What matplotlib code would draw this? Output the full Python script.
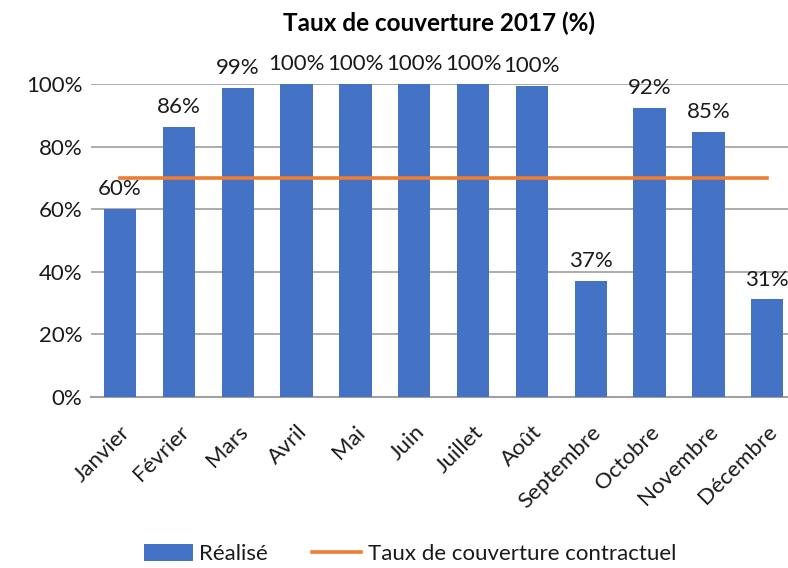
import matplotlib
matplotlib.use('Agg')
import matplotlib.pyplot as plt
from matplotlib.patches import Patch
from matplotlib.lines import Line2D

plt.rcParams['font.family'] = ['Lato', 'DejaVu Sans']

mois = ['Janvier', 'Février', 'Mars', 'Avril', 'Mai', 'Juin', 'Juillet',
        'Août', 'Septembre', 'Octobre', 'Novembre', 'Décembre']
realise = [0.60, 0.862, 0.988, 1.0, 1.0, 1.0, 1.0, 0.995, 0.372, 0.923, 0.848, 0.312]
contractuel = [0.70] * 12
yticks = [0, 0.2, 0.4, 0.6, 0.8, 1.0]

bleu = '#4472C4'
orange = '#ED7D31'
texte = '#1A1A1A'
fs = 16

fig = plt.figure(figsize=(7.88, 5.68), dpi=100)
ax = fig.add_axes([90.6 / 788, 1 - 397 / 568, 706 / 788, 313 / 568])

x = list(range(len(mois)))
ax.bar(x, realise, width=0.55, color=bleu, zorder=2)
ax.plot(x, contractuel, color=orange, lw=2.6, zorder=3)

for xi, v in zip(x, realise):
    ax.annotate('{:.0f}%'.format(v * 100), (xi, v), xytext=(0, 7),
                textcoords='offset points', ha='center', va='bottom',
                fontsize=fs, color=texte)

ax.set_xlim(-0.5, len(mois) - 0.5)
ax.set_ylim(0, 1.0)
ax.set_yticks(yticks)
ax.set_yticklabels(['{:.0f}%'.format(t * 100) for t in yticks])
ax.set_xticks(x)
ax.set_xticklabels(mois, rotation=45, ha='right', va='top',
                   rotation_mode='anchor')
ax.tick_params(axis='x', length=0, pad=18, labelsize=fs, colors=texte)
ax.tick_params(axis='y', length=0, pad=6, labelsize=fs, colors=texte)
ax.grid(axis='y', color='#A6A6A6', lw=1.3, zorder=0)
ax.set_axisbelow(True)
for s in ['top', 'right', 'left']:
    ax.spines[s].set_visible(False)
ax.spines['bottom'].set_color('#A0A0A0')
ax.spines['bottom'].set_linewidth(1.5)
ax.spines['bottom'].set_zorder(1)

fig.text(439 / 788, 1 - 23 / 568, 'Taux de couverture 2017 (%)', ha='center',
         va='center', fontsize=17.5, fontweight='bold', color='black')

handles = [Patch(facecolor=bleu), Line2D([], [], color=orange, lw=2.6)]
fig.legend(handles, ['Réalisé', 'Taux de couverture contractuel'],
           loc='center', bbox_to_anchor=(410 / 788, 1 - 554 / 568), ncol=2,
           frameon=False, fontsize=fs, handlelength=2.2, handleheight=0.8,
           handletextpad=0.3, columnspacing=2.0, labelcolor=texte)

fig.savefig('out.png', dpi=100)
